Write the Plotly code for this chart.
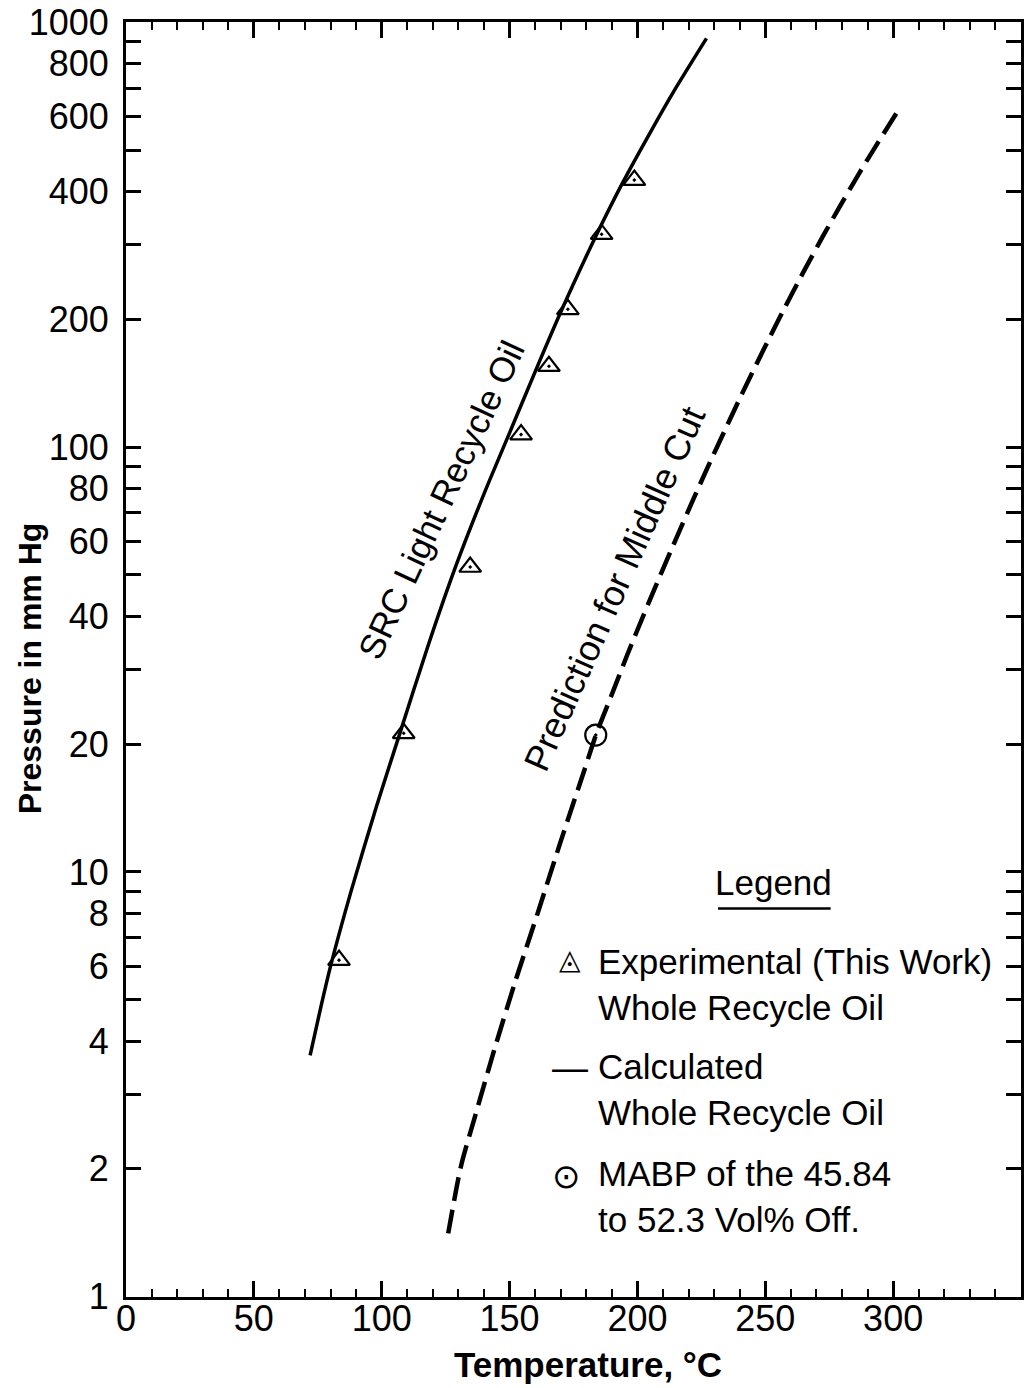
import math
import plotly.graph_objects as go

# ---- data ----
calc_T = [72, 76, 80, 88, 98, 107, 118, 129, 140, 150, 161.5, 170.5, 184, 194.5, 205, 214.5, 227]
calc_P = [3.7, 4.75, 6.0, 9.0, 14.3, 21.1, 33.9, 52.5, 77.6, 108, 158, 211, 316, 422, 550, 692, 916]

exp_T = [83.3, 108.6, 134.6, 154.5, 165.4, 172.8, 186.0, 198.8]
exp_P = [6.2, 21.2, 52.2, 107, 155, 211, 317, 425]

pred_T = [126, 131, 136.5, 144, 152, 161, 170, 179.3, 184, 189.6, 196, 202.6, 209, 215.6,
          222, 228.5, 235, 241.5, 249.3, 257, 265, 272.6, 279, 287, 293.4, 302.5]
pred_P = [1.41, 2.03, 2.66, 3.81, 5.47, 8.0, 11.8, 17.4, 21.2, 25.8, 32.4, 40.5, 50.0, 61.8,
          75.7, 92.5, 112.2, 135.8, 169.4, 209.4, 258.8, 314, 367, 444, 513, 627]

mabp_T = [183.7]
mabp_P = [21.0]

x_ticks = [0, 50, 100, 150, 200, 250, 300]
y_labeled = [1, 2, 4, 6, 8, 10, 20, 40, 60, 80, 100, 200, 400, 600, 800, 1000]
y_tickvals = [m * d for d in (1, 10, 100) for m in range(1, 10)] + [1000]
y_ticktext = [str(v) if v in y_labeled else "" for v in y_tickvals]

REG = "Liberation Sans, Arial, Helvetica, sans-serif"

fig = go.Figure()
fig.add_trace(go.Scatter(x=calc_T, y=calc_P, mode="lines",
                         line=dict(color="black", width=3.5, shape="spline", smoothing=0.7),
                         showlegend=False))
fig.add_trace(go.Scatter(x=pred_T, y=pred_P, mode="lines",
                         line=dict(color="black", width=4.5, dash="24px,9px",
                                   shape="spline", smoothing=0.7),
                         showlegend=False))
fig.add_trace(go.Scatter(x=exp_T, y=exp_P, mode="markers",
                         marker=dict(symbol="triangle-up-open-dot", size=19, color="black",
                                     line=dict(color="black", width=2.2)),
                         showlegend=False))
fig.add_trace(go.Scatter(x=mabp_T, y=mabp_P, mode="markers",
                         marker=dict(symbol="circle-open-dot", size=21, color="black",
                                     line=dict(color="black", width=2.2)),
                         showlegend=False))

W, H = 1026, 1388
L, R, T, B = 126, 2, 20, 91
pw, ph = W - L - R, H - T - B


def px(xp):
    return (xp - L) / pw


def py(yp):
    return (H - B - yp) / ph


def note(x, y, text, size, family=REG, angle=0, xref="paper", yref="paper", **kw):
    d = dict(x=x, y=y, xref=xref, yref=yref, text=text, textangle=angle, showarrow=False,
             xanchor="center", yanchor="middle", font=dict(family=family, size=size, color="black"))
    d.update(kw)
    return d


ann = []
# curve labels (data coordinates; log axis uses log10)
ann.append(note(123.0, math.log10(75), "SRC Light Recycle Oil", 35, angle=-65, xref="x", yref="y"))
ann.append(note(191, math.log10(46.5), "Prediction for Middle Cut", 36, angle=-66, xref="x", yref="y"))
# axis titles
ann.append(note(px(30), py(667), "<b>Pressure in mm Hg</b>", 32, angle=-90))
ann.append(note(px(590), py(1365), "<b>Temperature, °C</b>", 35))
# legend
ann.append(note(px(776), py(882), "Legend", 35))
ann.append(note(px(571), py(959), "◬", 28, family="DejaVu Sans"))
ann.append(note(px(571), py(1067), "—", 36))
ann.append(note(px(568), py(1176), "⊙", 34, family="DejaVu Sans"))
for txt, yc in [("Experimental (This Work)<br>Whole Recycle Oil", 984),
                ("Calculated<br>Whole Recycle Oil", 1089.5),
                ("MABP of the 45.84<br>to 52.3 Vol% Off.", 1196)]:
    ann.append(note(px(598), py(yc), txt, 35, align="left", xanchor="left"))

fig.update_layout(
    width=W, height=H,
    margin=dict(l=L, r=R, t=T, b=B),
    paper_bgcolor="white", plot_bgcolor="white",
    annotations=ann,
    shapes=[dict(type="line", xref="paper", yref="paper", x0=px(720), x1=px(833),
                 y0=py(908), y1=py(908), line=dict(color="black", width=2.5))],
    xaxis=dict(range=[0, 350], tickvals=x_ticks, ticks="inside", ticklen=16, tickwidth=2.5,
               tickcolor="black", showline=True, linewidth=3, linecolor="black", mirror="allticks",
               showgrid=False, zeroline=False, ticklabelstandoff=-12, ticklabeloverflow="allow",
               tickfont=dict(family=REG, size=36, color="black"),
               minor=dict(dtick=10, tick0=0, ticks="inside", ticklen=8, tickwidth=2, tickcolor="black",
                          showgrid=False)),
    yaxis=dict(type="log", range=[-0.0005, 3.0005], tickvals=y_tickvals, ticktext=y_ticktext,
               ticks="inside", ticklen=15, tickwidth=2.5, tickcolor="black", showline=True,
               linewidth=3, linecolor="black", mirror="allticks", showgrid=False, zeroline=False,
               ticklabelstandoff=7, ticklabeloverflow="allow",
               tickfont=dict(family=REG, size=36, color="black")),
)

fig.write_html("out.html", config={"displayModeBar": False},
               post_script="document.body.style.margin='0px';document.body.style.overflow='hidden';")
